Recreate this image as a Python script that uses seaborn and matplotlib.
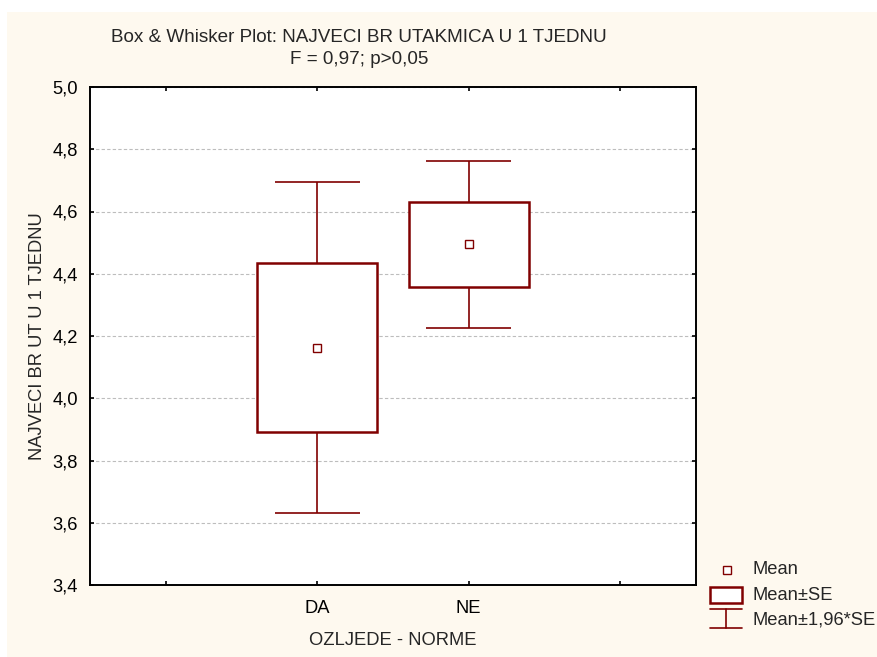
import matplotlib
matplotlib.use("Agg")
import matplotlib.pyplot as plt
from matplotlib.lines import Line2D
from matplotlib.patches import Rectangle
from matplotlib.ticker import FuncFormatter, FixedLocator
import numpy as np
import pandas as pd
import seaborn as sns

# Group statistics: NAJVECI BR UTAKMICA U 1 TJEDNU by OZLJEDE - NORME
groups = ["DA", "NE"]
means = [4.163, 4.494]
se = [0.272, 0.137]
slots = ["", "DA", "NE", " "]  # category axis with empty outer slots

title_lines = ["Box & Whisker Plot: NAJVECI BR UTAKMICA U 1 TJEDNU", "F = 0,97; p>0,05"]
x_label = "OZLJEDE - NORME"
y_label = "NAJVECI BR UT U 1 TJEDNU"
y_ticks = [3.4, 3.6, 3.8, 4.0, 4.2, 4.4, 4.6, 4.8, 5.0]
legend_labels = ["Mean", "Mean\u00b1SE", "Mean\u00b11,96*SE"]

W, H = 878, 657
RED = "#800000"
CREAM = "#FEF9EF"
FONT = ["Liberation Sans", "DejaVu Sans"]
FS = 13.2

sns.set_theme(style="white")
plt.rcParams["font.family"] = FONT
plt.rcParams["font.size"] = FS

fig = plt.figure(figsize=(W / 100, H / 100), dpi=100, facecolor="white")


def fx(px):
    return px / W


def fy(py):
    return 1 - py / H


# cream panel behind everything
fig.patches.append(Rectangle((fx(7), 0), 1 - fx(7), fy(12), transform=fig.transFigure,
                             facecolor=CREAM, edgecolor="none", zorder=-10))

ax = fig.add_axes([fx(90), fy(585), fx(696) - fx(90), fy(87) - fy(585)])
ax.set_facecolor("white")

df = pd.DataFrame({"grupa": groups, "mean": means, "se": se})
df["lo1"] = df["mean"] - df["se"]
df["hi1"] = df["mean"] + df["se"]
df["lo2"] = df["mean"] - 1.96 * df["se"]
df["hi2"] = df["mean"] + 1.96 * df["se"]
pos = np.array([slots.index(g) for g in df["grupa"]])

box_w = 0.79
cap_w = 0.56
LW_WH = 1.2
LW_BOX = 1.8

# whiskers (mean +/- 1.96*SE)
ax.vlines(pos, df["hi1"], df["hi2"], color=RED, lw=LW_WH, zorder=2)
ax.vlines(pos, df["lo2"], df["lo1"], color=RED, lw=LW_WH, zorder=2)
ax.hlines(df["hi2"], pos - cap_w / 2, pos + cap_w / 2, color=RED, lw=LW_WH, zorder=2)
ax.hlines(df["lo2"], pos - cap_w / 2, pos + cap_w / 2, color=RED, lw=LW_WH, zorder=2)

# boxes (mean +/- SE)
ax.bar(pos, df["hi1"] - df["lo1"], bottom=df["lo1"], width=box_w,
       facecolor="white", edgecolor=RED, linewidth=LW_BOX, zorder=3)

# mean markers
sns.pointplot(data=df, x="grupa", y="mean", order=slots, errorbar=None,
              linestyle="none", marker="s", color=RED, ax=ax,
              markersize=5.5, markerfacecolor="white", markeredgecolor=RED,
              markeredgewidth=1.0, zorder=5)

ax.set_xlim(-0.5, len(slots) - 0.5)
ax.set_ylim(y_ticks[0], y_ticks[-1])
ax.xaxis.set_major_locator(FixedLocator(range(len(slots))))
ax.set_xticklabels(slots)
ax.yaxis.set_major_locator(FixedLocator(y_ticks))
ax.yaxis.set_major_formatter(FuncFormatter(lambda v, p: f"{v:.1f}".replace(".", ",")))

ax.set_axisbelow(True)
ax.yaxis.grid(True, color="#BDBDBD", linestyle=(0, (3, 2)), linewidth=0.8)
ax.xaxis.grid(False)

for s in ax.spines.values():
    s.set_visible(True)
    s.set_color("black")
    s.set_linewidth(1.4)

ax.tick_params(axis="both", which="major", direction="in", length=3, width=1.2,
               top=True, right=True, bottom=True, left=True, labelsize=FS,
               colors="black")
ax.tick_params(axis="y", pad=8.5)
ax.tick_params(axis="x", pad=10.5)

ax.set_xlabel(x_label, fontsize=FS, labelpad=11)
ax.set_ylabel(y_label, fontsize=FS, labelpad=5)

fig.text(fx(359), fy(37), title_lines[0], ha="center", va="center", fontsize=13.6)
fig.text(fx(359), fy(60), title_lines[1], ha="center", va="center", fontsize=13.6)

# legend key drawn beside the plot
fig.add_artist(Line2D([fx(727)], [fy(570)], transform=fig.transFigure, marker="s",
                      markersize=5.5, markerfacecolor="white", markeredgecolor=RED,
                      markeredgewidth=1.0, linestyle="none"))
fig.add_artist(Rectangle((fx(710), fy(603)), fx(742) - fx(710), fy(587) - fy(603),
                         transform=fig.transFigure, facecolor="white",
                         edgecolor=RED, linewidth=LW_BOX))
for yy in (609, 628):
    fig.add_artist(Line2D([fx(710), fx(742)], [fy(yy), fy(yy)],
                          transform=fig.transFigure, color=RED, lw=LW_WH))
fig.add_artist(Line2D([fx(726), fx(726)], [fy(609), fy(628)],
                      transform=fig.transFigure, color=RED, lw=LW_WH))
for lbl, yy in zip(legend_labels, (570, 595, 620)):
    fig.text(fx(753), fy(yy), lbl, ha="left", va="center", fontsize=FS)

fig.savefig("out.png", dpi=100, facecolor=fig.get_facecolor())
